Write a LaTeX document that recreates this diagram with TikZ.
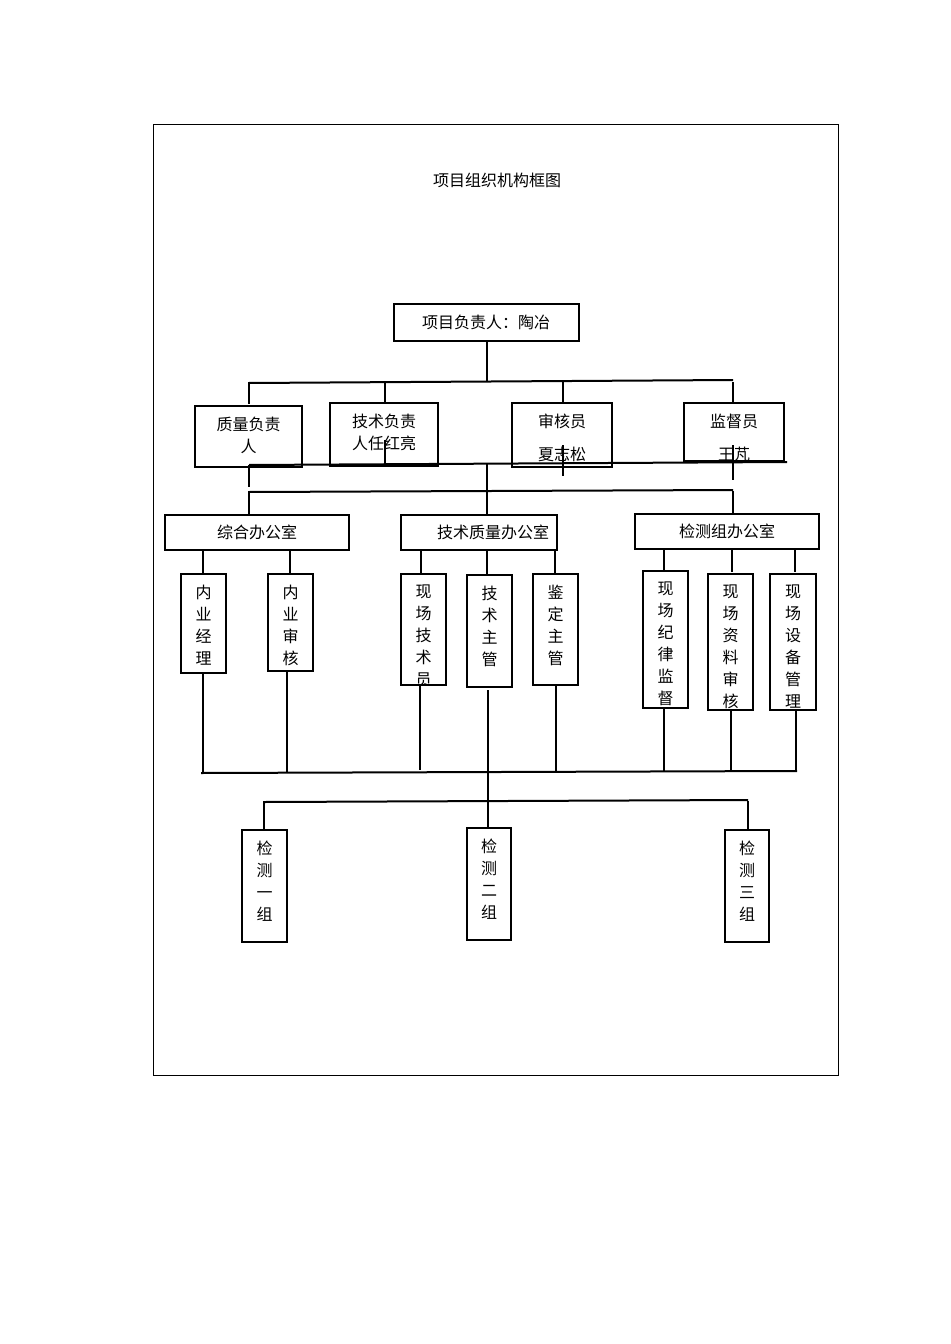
\documentclass[tikz,border=0pt]{standalone}
\usepackage{fontspec}
\newfontfamily\cjk{Noto Sans CJK SC}
\begin{document}
\begin{tikzpicture}[x=0.75pt,y=-0.75pt,line width=1.5pt,
  txt/.style={font=\cjk\fontsize{12}{16.5}\selectfont,align=center,inner sep=0pt,anchor=north},
  ln/.style={line width=1.5pt}]
\useasboundingbox (0,0) rectangle (950,1344);
\draw[line width=0.6pt] (153,124) rectangle (838,1075);
\node[txt] (title) at (497,172) {项目组织机构框图};
% top
\draw (394,304) rectangle (579,341);
\node[txt,anchor=center] (top) at (486,322) {项目负责人：陶冶};
\draw (487,341)--(487,381);
\draw (249,383)--(733,380);
\foreach \x/\y in {249/404,385/402,563/402,733/403}{\draw (\x,382)--(\x,\y);}
% row 2
\newcommand\clipbox[5]{\begin{scope}\clip (#1,#2) rectangle (#3,#4);\node[txt] at ({(#1+#3)/2},#2+10) {#5};\end{scope}\draw (#1,#2) rectangle (#3,#4);}
\clipbox{195}{406}{302}{467}{质量负责\\人}
\clipbox{330}{403}{438}{466}{技术负责\\人任红亮}
\clipbox{512}{403}{612}{467}{审核员\\[8pt]夏志松}
\clipbox{684}{403}{784}{461}{监督员\\[8pt]王芃}
\draw (385,440)--(385,463);
\draw (563,445)--(563,476);
\draw (733,445)--(733,480);
\draw (249,465)--(787,462);
\draw (487,463)--(487,491);
\draw (249,465)--(249,487);
\draw (249,492)--(733,490);
\foreach \x in {249,487,733}{\draw (\x,491)--(\x,515);}
% row 3
\draw (165,515) rectangle (349,550); \node[txt,anchor=center] at (257,532) {综合办公室};
\draw (401,515) rectangle (557,550); \node[txt,anchor=center] at (493,532) {技术质量办公室};
\draw (635,514) rectangle (819,549); \node[txt,anchor=center] at (727,531) {检测组办公室};
\foreach \x in {203,290}{\draw (\x,550)--(\x,574);}
\foreach \x in {421,487,555}{\draw (\x,550)--(\x,574);}
\foreach \x in {664,732,795}{\draw (\x,549)--(\x,572);}
% columns
\clipbox{181}{574}{226}{673}{内\\业\\经\\理}
\clipbox{268}{574}{313}{671}{内\\业\\审\\核}
\clipbox{401}{574}{446}{685}{现\\场\\技\\术\\员}
\clipbox{467}{575}{512}{687}{技\\术\\主\\管}
\clipbox{533}{574}{578}{685}{鉴\\定\\主\\管}
\clipbox{643}{571}{688}{708}{现\\场\\纪\\律\\监\\督}
\clipbox{708}{574}{753}{710}{现\\场\\资\\料\\审\\核}
\clipbox{770}{574}{816}{710}{现\\场\\设\\备\\管\\理}
\draw (203,673)--(203,772);
\draw (287,671)--(287,772);
\draw (420,685)--(420,770);
\draw (488,690)--(488,800);
\draw (556,685)--(556,772);
\draw (664,708)--(664,772);
\draw (731,710)--(731,772);
\draw (796,710)--(796,772);
\draw (201,773)--(797,771);
\draw (264,802)--(748,800);
\foreach \x in {264,748}{\draw (\x,801)--(\x,830);}
\draw (488,801)--(488,828);
\clipbox{242}{830}{287}{942}{检\\测\\一\\组}
\clipbox{467}{828}{511}{940}{检\\测\\二\\组}
\clipbox{725}{830}{769}{942}{检\\测\\三\\组}
\end{tikzpicture}
\end{document}
